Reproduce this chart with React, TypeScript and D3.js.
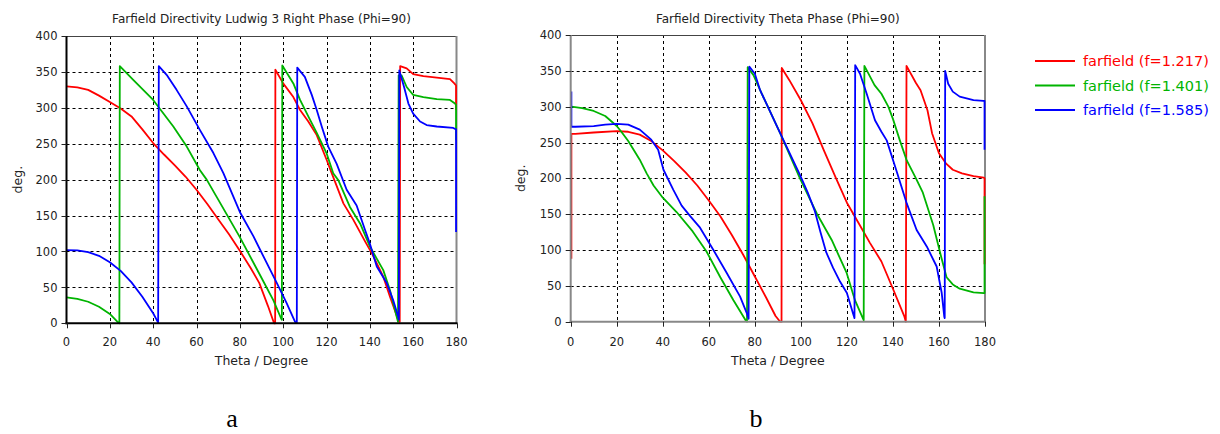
import React from "react";
import * as d3 from "d3";

type Pt = [number, number];

const thetaTicks = [0, 20, 40, 60, 80, 100, 120, 140, 160, 180];
const degTicks = [0, 50, 100, 150, 200, 250, 300, 350, 400];
const seriesLabels = ["farfield (f=1.217)", "farfield (f=1.401)", "farfield (f=1.585)"];
const seriesColors = ["#ff0000", "#00b400", "#0000ff"];
const titleA = "Farfield Directivity Ludwig 3 Right Phase (Phi=90)";
const titleB = "Farfield Directivity Theta Phase (Phi=90)";
const xLabel = "Theta / Degree";
const yLabel = "deg.";
const panelLabels = ["a", "b"];

// (a) Ludwig 3 Right phase: [theta, phase]
const ludwigF1217: Pt[] = [
  [0, 330], [5, 328.5], [10, 325], [15, 317], [20, 308], [25, 299], [30, 288], [35, 270], [40, 251],
  [45, 235], [50, 220], [55, 204], [60, 186], [65, 166], [70, 145], [75, 124], [80, 101], [85, 77],
  [89, 56], [93, 24], [95.8, 0], [96.3, 0], [96.4, 353], [100, 334], [104.7, 315], [107.8, 297],
  [111.6, 281], [115.5, 262], [120, 228], [122.4, 209], [127.8, 167], [132.4, 144], [137.8, 114],
  [141, 97], [146.2, 65], [149.3, 37], [153.2, 4], [153.8, 2], [154, 358], [157, 355], [160, 347],
  [164.7, 344], [170.9, 342], [177, 340], [179, 334], [179.8, 331], [179.8, 297],
];
const ludwigF1401: Pt[] = [
  [0, 36], [5, 34], [10, 30], [15, 23], [20, 13], [23.9, 1], [24.4, 0], [24.6, 358], [30.8, 339],
  [40, 311], [49.3, 274], [55.5, 246], [61.6, 213], [64.7, 200], [69.3, 176], [80, 120], [89, 69],
  [95.5, 32], [99, 7], [99.4, 5], [99.6, 359], [104.7, 334], [107.8, 311], [111.6, 288], [115.5, 265],
  [120, 237], [123.1, 209], [125.5, 199], [130.8, 162], [135.5, 139], [140, 107], [146.2, 74],
  [149.3, 46], [152.4, 9], [153, 2], [153.3, 345], [154.7, 345], [157, 329], [160, 318], [164.7, 315],
  [170.9, 312], [177, 311], [179.3, 306], [179.8, 304], [179.8, 255],
];
const ludwigF1585: Pt[] = [
  [0, 102], [5, 101.5], [10, 99], [15, 94], [20, 85], [25, 73], [30, 57], [35, 37], [40, 14],
  [42.3, 1], [42.6, 358], [46.2, 346], [50.8, 325], [55.5, 302], [61.6, 269], [67.8, 237], [72.4, 209],
  [80, 155], [86.3, 121], [92.4, 84], [97.1, 56], [101.6, 28], [105.5, 2], [106.3, 1], [106.5, 356],
  [110, 343], [113.2, 318], [115.5, 297], [117.8, 274], [120.8, 246], [124.7, 222], [129.3, 186],
  [133.9, 164], [137.8, 130], [140, 111], [143.2, 79], [147.8, 56], [150.8, 32], [153.1, 9], [153.4, 5],
  [153.6, 352], [155.8, 329], [157.8, 306], [160, 292], [163.2, 281], [166.2, 276], [170.9, 274],
  [178.5, 272], [179.8, 270], [179.8, 127],
];

// (b) Theta phase: [theta, phase]
const thetaF1217: Pt[] = [
  [0.3, 88], [0.3, 262], [2, 262], [10, 264], [20, 266], [25, 265], [30, 261], [35, 252], [40, 239],
  [45, 224], [50, 208], [55, 190], [60, 169], [65, 147], [70, 121], [75, 93], [80, 63], [85, 33],
  [89, 8], [91, 0], [91.6, 0], [91.7, 354], [95, 337], [100, 309], [105, 277], [110, 239], [115, 202],
  [120, 166], [125, 138], [130, 110], [135, 84], [140, 46], [145, 7], [145.6, 0], [145.9, 357],
  [150, 333], [152, 323], [155, 295], [157, 263], [160, 235], [163, 221], [166, 212], [170, 207],
  [175, 203], [179.5, 201], [179.8, 200], [179.8, 80],
];
const thetaF1401: Pt[] = [
  [0.3, 300], [5, 298], [10, 294], [15, 287], [20, 273], [22, 265], [25, 252], [30, 226], [33, 207],
  [36, 190], [40, 173], [46, 153], [53, 126], [59, 98], [65, 62], [70.7, 30], [76, 2], [76.6, 0],
  [76.9, 355], [79.4, 344], [82.3, 323], [91, 263], [99.6, 200], [106.9, 151], [113.4, 114],
  [119.9, 68], [123.5, 30], [126.9, 5], [127.3, 2], [127.6, 357], [132, 330], [135, 318], [138, 300],
  [140, 283], [143, 253], [146, 225], [150, 200], [153, 180], [157.5, 135], [161, 90], [163.3, 62],
  [166, 52], [169, 46], [175, 41], [179.5, 40], [179.8, 40], [179.8, 175],
];
const thetaF1585: Pt[] = [
  [0.3, 321], [0.3, 272], [2, 272], [10, 273], [15, 275], [20, 276], [25, 275], [30, 268], [35, 254],
  [38, 240], [40.3, 212], [44.6, 184], [48.2, 162], [52, 147], [56, 132], [62, 100], [67.8, 68],
  [73.6, 35], [76.5, 12], [77.3, 4], [77.6, 356], [80, 346], [82.3, 323], [91, 263], [99.6, 205],
  [103, 180], [106, 155], [108.5, 125], [111, 97], [114, 75], [117, 56], [120, 40], [122.8, 10],
  [123.3, 5], [123.6, 358], [125.7, 346], [128.6, 318], [132.2, 281], [135, 265], [137.3, 253],
  [141.6, 210], [146, 165], [150.3, 128], [154.7, 105], [159, 77], [161.2, 40], [162.3, 7], [162.5, 5],
  [162.7, 350], [164, 332], [166, 321], [169, 314], [175, 309], [179.3, 308], [179.8, 308], [179.8, 240],
];

const FONT = "DejaVu Sans";

type ChartProps = {
  left: number;
  right: number;
  top: number;
  bottom: number;
  title: string;
  series: Pt[][];
  leftAxisColor: string;
  bottomAxisColor: string;
  yLabelX: number;
};

function Chart({ left, right, top, bottom, title, series, leftAxisColor, bottomAxisColor, yLabelX }: ChartProps) {
  const x = d3.scaleLinear().domain([0, 180]).range([left, right]);
  const y = d3.scaleLinear().domain([0, 400]).range([bottom, top]);
  const line = d3.line<Pt>().x((d) => x(d[0])).y((d) => y(d[1]));
  const r = (v: number) => Math.round(v) + 0.5;
  return (
    <g>
      <text x={(left + right) / 2} y={22.5} textAnchor="middle" fontFamily={FONT} fontSize={12} fill="#222">
        {title}
      </text>
      {thetaTicks.slice(1, -1).map((t) => (
        <line key={"gx" + t} x1={r(x(t))} x2={r(x(t))} y1={top} y2={bottom} stroke="#000" strokeWidth={1} strokeDasharray="3,3" />
      ))}
      {degTicks.slice(1, -1).map((t) => (
        <line key={"gy" + t} x1={left} x2={right} y1={r(y(t))} y2={r(y(t))} stroke="#000" strokeWidth={1} strokeDasharray="3,3" />
      ))}
      <line x1={left} x2={right} y1={r(top)} y2={r(top)} stroke="#444" strokeWidth={1} />
      <line x1={right} x2={right} y1={top} y2={bottom} stroke="#888" strokeWidth={2} />
      {series.map((s, i) => (
        <path key={"s" + i} d={line(s) || ""} fill="none" stroke={seriesColors[i]} strokeWidth={1.8} strokeLinejoin="round" />
      ))}
      <line x1={left} x2={left} y1={top} y2={bottom + 1} stroke={leftAxisColor} strokeWidth={2} />
      <line x1={left - 1} x2={right + 1} y1={bottom} y2={bottom} stroke={bottomAxisColor} strokeWidth={2} />
      {degTicks.map((t) => (
        <g key={"ty" + t}>
          <line x1={left - 5} x2={left} y1={r(y(t))} y2={r(y(t))} stroke="#222" strokeWidth={1} />
          <text x={left - 9} y={y(t)} dy="0.36em" textAnchor="end" fontFamily={FONT} fontSize={11.5} fill="#222">
            {t}
          </text>
        </g>
      ))}
      {thetaTicks.map((t) => (
        <g key={"tx" + t}>
          <line x1={r(x(t))} x2={r(x(t))} y1={bottom} y2={bottom + 5} stroke="#222" strokeWidth={1} />
          <text x={x(t)} y={346} textAnchor="middle" fontFamily={FONT} fontSize={11.5} fill="#222">
            {t}
          </text>
        </g>
      ))}
      <text x={(left + right) / 2} y={364.5} textAnchor="middle" fontFamily={FONT} fontSize={12.5} fill="#222">
        {xLabel}
      </text>
      <text
        transform={`translate(${yLabelX},${(top + bottom) / 2}) rotate(-90)`}
        textAnchor="middle"
        dy="0.36em"
        fontFamily={FONT}
        fontSize={12.5}
        fill="#222"
      >
        {yLabel}
      </text>
    </g>
  );
}

export default function App() {
  const legendRows = [61, 85.5, 110];
  return (
    <svg width={1220} height={434} style={{ position: "absolute", left: 0, top: 0, background: "#fff" }}>
      <rect x={0} y={0} width={1220} height={434} fill="#fff" />
      <Chart
        left={66.5}
        right={456.5}
        top={36}
        bottom={323.3}
        title={titleA}
        series={[ludwigF1217, ludwigF1401, ludwigF1585]}
        leftAxisColor="#000"
        bottomAxisColor="#000"
        yLabelX={17}
      />
      <Chart
        left={570.7}
        right={985}
        top={35}
        bottom={321.7}
        title={titleB}
        series={[thetaF1217, thetaF1401, thetaF1585]}
        leftAxisColor="#888"
        bottomAxisColor="#888"
        yLabelX={520}
      />
      {seriesLabels.map((lab, i) => (
        <g key={lab}>
          <line x1={1035} x2={1075} y1={legendRows[i]} y2={legendRows[i]} stroke={seriesColors[i]} strokeWidth={2} />
          <text x={1083} y={legendRows[i]} dy="0.36em" fontFamily={FONT} fontSize={14.5} fill={seriesColors[i]}>
            {lab}
          </text>
        </g>
      ))}
      <text x={232} y={427} textAnchor="middle" fontFamily="Liberation Serif" fontSize={26} fill="#000">
        {panelLabels[0]}
      </text>
      <text x={756} y={427} textAnchor="middle" fontFamily="Liberation Serif" fontSize={26} fill="#000">
        {panelLabels[1]}
      </text>
    </svg>
  );
}
